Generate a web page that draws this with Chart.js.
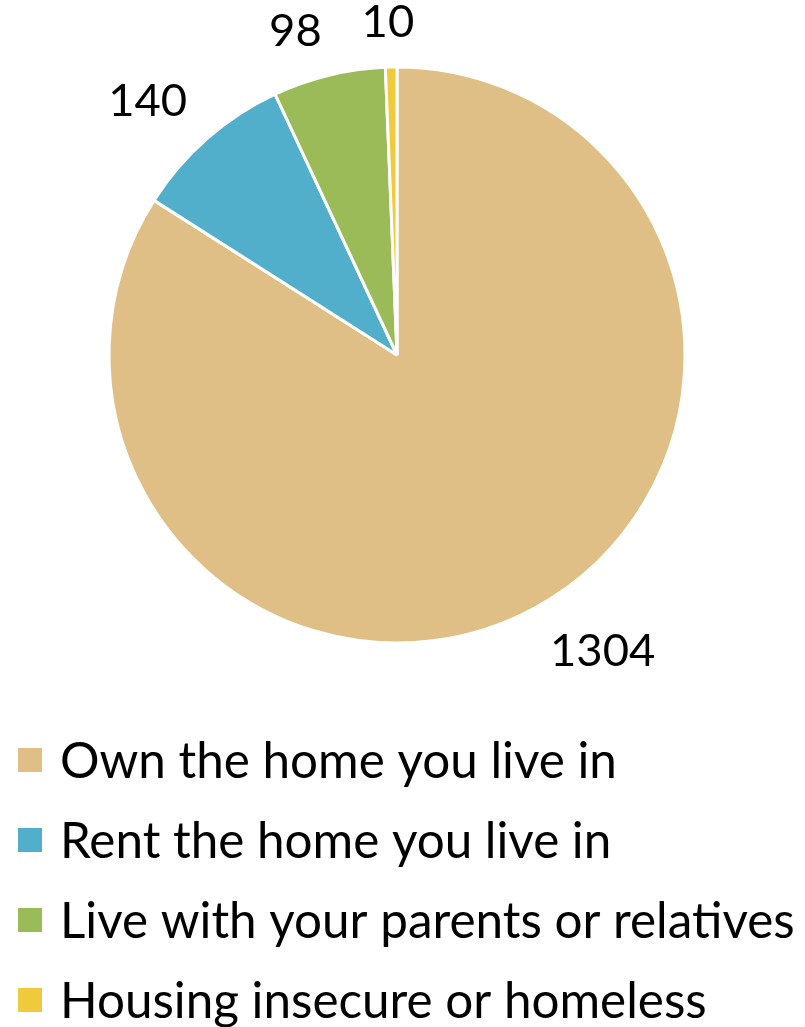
<!DOCTYPE html>
<html>
<head>
<meta charset="utf-8">
<script src="https://cdn.jsdelivr.net/npm/chart.js@4/dist/chart.umd.min.js"></script>
<style>
  html, body { margin: 0; padding: 0; background: #fff; }
  #wrap { width: 805px; height: 1027px; position: relative; }
</style>
</head>
<body>
<div id="wrap"><canvas id="pie"></canvas></div>
<script>
let categories = [
  "Own the home you live in",
  "Rent the home you live in",
  "Live with your parents or relatives",
  "Housing insecure or homeless"
];
let counts = [1304, 140, 98, 10];
let sliceColors = ["#DFBF85", "#51AFCC", "#9BBB59", "#EFCA3A"];

let fontFamily = "Lato, 'Open Sans', sans-serif";
let widestEntry = 735; // longest legend line in the original, in px
let fontSize = fitFontSize();
let labelSize = (fontSize * 0.92).toFixed(1);

function fitFontSize() {
  let ctx = document.createElement("canvas").getContext("2d");
  ctx.font = "100px " + fontFamily;
  let widest = Math.max(...categories.map(c => ctx.measureText(c).width));
  return (100 * widestEntry / widest).toFixed(1);
}

function clamp(v) {
  return Math.max(-1, Math.min(1, v));
}

// value labels sit just outside each slice, pushed away from the pie
const valueLabels = {
  id: "valueLabels",
  afterDatasetsDraw(chart) {
    let ctx = chart.ctx;
    let meta = chart.getDatasetMeta(0);
    let values = chart.data.datasets[0].data;
    ctx.save();
    ctx.font = labelSize + "px " + fontFamily;
    ctx.fillStyle = "#000";
    ctx.textAlign = "center";
    ctx.textBaseline = "alphabetic";
    meta.data.forEach((arc, i) => {
      let p = arc.getProps(["x", "y", "startAngle", "endAngle", "outerRadius"], true);
      let mid = (p.startAngle + p.endAngle) / 2;
      let cos = Math.cos(mid), sin = Math.sin(mid);
      let text = String(values[i]);
      let m = ctx.measureText(text);
      let hw = m.width / 2, hh = m.actualBoundingBoxAscent / 2;
      let r = p.outerRadius + 30;
      let x = p.x + cos * r + hw * clamp(cos * 5);
      let y = p.y + sin * r + hh * clamp(sin * 5);
      ctx.fillText(text, x, y + hh);
    });
    ctx.restore();
  }
};

// one legend entry per line under the pie
const listLegend = {
  id: "listLegend",
  afterDraw(chart) {
    let ctx = chart.ctx;
    let colors = chart.data.datasets[0].backgroundColor;
    let firstRow = chart.chartArea.bottom + 50;
    ctx.save();
    ctx.font = fontSize + "px " + fontFamily;
    ctx.textAlign = "left";
    ctx.textBaseline = "alphabetic";
    let cap = ctx.measureText("H").actualBoundingBoxAscent;
    chart.data.labels.forEach((label, i) => {
      let cy = firstRow + i * 80;
      ctx.fillStyle = colors[i];
      ctx.fillRect(18, cy - 12, 24, 24);
      ctx.fillStyle = "#000";
      ctx.fillText(label, 60, cy + cap / 2);
    });
    ctx.restore();
  }
};

new Chart(document.getElementById("pie"), {
  type: "pie",
  data: {
    labels: categories,
    datasets: [{
      data: counts,
      backgroundColor: sliceColors,
      borderColor: "#fff",
      borderWidth: 3
    }]
  },
  options: {
    responsive: true,
    maintainAspectRatio: false,
    animation: false,
    radius: 288,
    layout: { padding: { left: 0, right: 11, top: 0, bottom: 317 } },
    plugins: {
      legend: { display: false },
      tooltip: { enabled: false }
    }
  },
  plugins: [valueLabels, listLegend]
});
</script>
</body>
</html>
